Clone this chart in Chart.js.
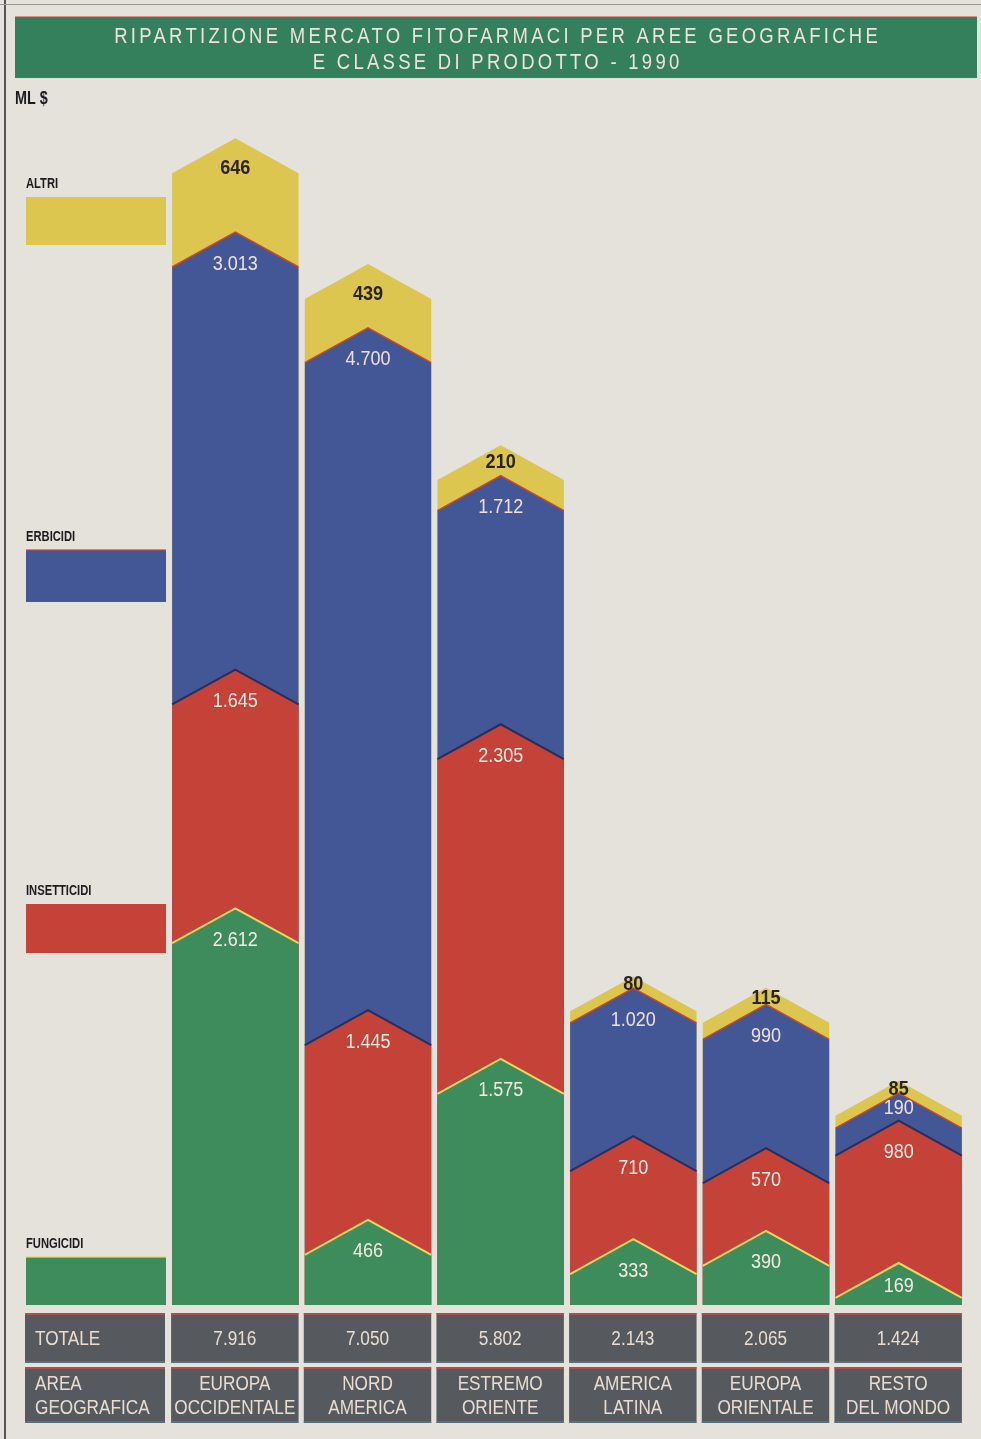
<!DOCTYPE html>
<html>
<head>
<meta charset="utf-8">
<script src="https://cdn.jsdelivr.net/npm/chart.js@4.4.1/dist/chart.umd.min.js"></script>
<style>
  body { margin: 0; background: #e5e2db; }
  #wrap { position: relative; width: 981px; height: 1439px; }
</style>
</head>
<body>
<div id="wrap"><canvas id="grafico" width="981" height="1439"></canvas></div>
<script>
// aree geografiche (due righe per cella) e valori in milioni di $
const aree = [
  ['EUROPA', 'OCCIDENTALE'],
  ['NORD', 'AMERICA'],
  ['ESTREMO', 'ORIENTE'],
  ['AMERICA', 'LATINA'],
  ['EUROPA', 'ORIENTALE'],
  ['RESTO', 'DEL MONDO']
];
const fungicidi   = [2612, 466, 1575, 333, 390, 169];
const insetticidi = [1645, 1445, 2305, 710, 570, 980];
const erbicidi    = [3013, 4700, 1712, 1020, 990, 190];
const altri       = [646, 439, 210, 80, 115, 85];
const totale      = [7916, 7050, 5802, 2143, 2065, 1424];

const classi = ['FUNGICIDI', 'INSETTICIDI', 'ERBICIDI', 'ALTRI'];
const colori = ['#3e8c5c', '#c44238', '#435696', '#dcc650'];
// filo sul bordo superiore di ogni fascia
const bordi = ['#e9d85e', '#2b2c58', '#c9482e', null];

const FONT = '"Liberation Sans", Arial, sans-serif';

function fmt(v) {
  return String(v).replace(/\B(?=(\d{3})+(?!\d))/g, '.');
}

function scrivi(ctx, s, x, y, font, color, align, sx) {
  ctx.save();
  ctx.font = font;
  ctx.fillStyle = color;
  ctx.textAlign = align;
  ctx.textBaseline = 'middle';
  ctx.translate(x, y);
  ctx.scale(sx, 1);
  ctx.fillText(s, 0, 0);
  ctx.restore();
}

// sfondo, testata, legenda a sinistra e tabella sotto le colonne
const cornice = {
  id: 'cornice',
  beforeDraw(chart) {
    const ctx = chart.ctx;
    ctx.save();
    ctx.fillStyle = '#e5e2db';
    ctx.fillRect(0, 0, chart.width, chart.height);
    ctx.fillStyle = '#55555a';
    ctx.fillRect(4, 0, 2, chart.height);
    ctx.fillStyle = '#9a9894';
    ctx.fillRect(0, 4, chart.width, 1);

    // banner del titolo
    ctx.fillStyle = '#34805c';
    ctx.fillRect(15, 17, 962, 61);
    ctx.fillStyle = 'rgba(200,90,80,0.6)';
    ctx.fillRect(15, 16, 962, 1);

    const righe = ['RIPARTIZIONE MERCATO FITOFARMACI PER AREE GEOGRAFICHE', 'E CLASSE DI PRODOTTO - 1990'];
    const sx = 0.84;
    const fTit = '22px ' + FONT;
    ctx.font = fTit;
    ctx.letterSpacing = '0px';
    const w0 = ctx.measureText(righe[0]).width;
    const ls = Math.max(0, (767 / sx - w0) / righe[0].length);
    [37, 63].forEach((y, j) => {
      ctx.save();
      ctx.font = fTit;
      ctx.letterSpacing = ls.toFixed(2) + 'px';
      ctx.fillStyle = '#efe3da';
      ctx.textAlign = 'center';
      ctx.textBaseline = 'middle';
      ctx.translate(496 + ls * sx / 2, y);
      ctx.scale(sx, 1);
      ctx.fillText(righe[j], 0, 0);
      ctx.restore();
    });
    ctx.letterSpacing = '0px';

    scrivi(ctx, 'ML $', 15, 99, 'bold 18px ' + FONT, '#1b1a1c', 'left', 0.8);

    // legenda
    const leg = [[1257, 1305], [904, 953], [550, 602], [197, 245]];
    leg.forEach(([t, b], k) => {
      ctx.fillStyle = colori[k];
      ctx.fillRect(26, t, 140, b - t);
      if (k === 0 || k === 2) {
        ctx.fillStyle = bordi[k];
        ctx.globalAlpha = 0.6;
        ctx.fillRect(26, t - 1, 140, 2);
        ctx.globalAlpha = 1;
      }
      scrivi(ctx, classi[k], 26, t - 13, 'bold 14px ' + FONT, '#1d1b1e', 'left', 0.8);
    });

    // tabella
    const meta = chart.getDatasetMeta(0);
    const celle = [[25, 165]].concat(meta.data.map(b => {
      const p = b.getProps(['x', 'width'], true);
      return [p.x - p.width / 2 - 1, p.x + p.width / 2];
    }));
    const fila = [[1313, 1363], [1367, 1423]];
    celle.forEach(([l, r], c) => {
      fila.forEach(([t, b]) => {
        ctx.fillStyle = '#565a5e';
        ctx.fillRect(l, t, r - l, b - t);
        ctx.fillStyle = 'rgba(196,78,76,0.75)';
        ctx.fillRect(l, t, r - l, 2);
        ctx.fillStyle = 'rgba(80,130,150,0.6)';
        ctx.fillRect(l, b - 2, r - l, 2);
      });
      const f = '20px ' + FONT, col = '#e9dcd2', cx = (l + r) / 2;
      if (c === 0) {
        scrivi(ctx, 'TOTALE', 35, 1339, f, col, 'left', 0.86);
        scrivi(ctx, 'AREA', 35, 1384, f, col, 'left', 0.86);
        scrivi(ctx, 'GEOGRAFICA', 35, 1408, f, col, 'left', 0.86);
      } else {
        scrivi(ctx, fmt(totale[c - 1]), cx, 1339, f, col, 'center', 0.86);
        scrivi(ctx, aree[c - 1][0], cx, 1384, f, col, 'center', 0.86);
        scrivi(ctx, aree[c - 1][1], cx, 1408, f, col, 'center', 0.86);
      }
    });
    ctx.restore();
  }
};

// colonne impilate con il bordo superiore a punta di freccia
const frecce = {
  id: 'frecce',
  afterDatasetsDraw(chart) {
    const ctx = chart.ctx;
    const metas = chart.data.datasets.map((d, k) => chart.getDatasetMeta(k));
    const n = chart.data.labels.length;
    ctx.save();
    for (let i = 0; i < n; i++) {
      const base = metas[0].data[i].getProps(['base'], true).base;
      const barre = metas.map(m => m.data[i].getProps(['x', 'y', 'base', 'width'], true));
      for (let k = barre.length - 1; k >= 0; k--) {
        const b = barre[k];
        const l = b.x - b.width / 2, r = b.x + b.width / 2, hh = b.width * 0.138;
        ctx.beginPath();
        ctx.moveTo(l, base);
        ctx.lineTo(l, b.y + hh);
        ctx.lineTo(b.x, b.y - hh);
        ctx.lineTo(r, b.y + hh);
        ctx.lineTo(r, base);
        ctx.closePath();
        ctx.fillStyle = colori[k];
        ctx.fill();
      }
      barre.forEach((b, k) => {
        if (!bordi[k]) return;
        const l = b.x - b.width / 2, r = b.x + b.width / 2, hh = b.width * 0.138;
        ctx.beginPath();
        ctx.moveTo(l, b.y + hh);
        ctx.lineTo(b.x, b.y - hh);
        ctx.lineTo(r, b.y + hh);
        ctx.strokeStyle = bordi[k];
        ctx.lineWidth = k === 2 ? 1.5 : 2;
        ctx.stroke();
      });
      barre.forEach((b, k) => {
        const hh = b.width * 0.138;
        const picco = b.y - hh;
        const v = chart.data.datasets[k].data[i];
        // spazio verticale sull'asse della colonna fino alla punta sottostante
        const spazio = (b.base - b.y) + (k === 0 ? hh : 0);
        const off = Math.min(k === 3 ? 30 : 32, Math.max(8, spazio / 2 + 2));
        if (k === 3) {
          scrivi(ctx, fmt(v), b.x, picco + off, 'bold 21px ' + FONT, '#2a241c', 'center', 0.86);
        } else {
          scrivi(ctx, fmt(v), b.x, picco + off, '20px ' + FONT, k === 2 ? '#ece0e2' : '#f4ece4', 'center', 0.9);
        }
      });
    }
    ctx.restore();
  }
};

const serie = [fungicidi, insetticidi, erbicidi, altri];

new Chart(document.getElementById('grafico'), {
  type: 'bar',
  data: {
    labels: aree.map(a => a.join(' ')),
    datasets: serie.map((d, k) => ({
      label: classi[k],
      data: d,
      backgroundColor: 'rgba(0,0,0,0)',
      borderWidth: 0,
      barPercentage: 0.953,
      categoryPercentage: 1
    }))
  },
  options: {
    responsive: false,
    devicePixelRatio: 1,
    animation: false,
    layout: { padding: { left: 169, right: 16, top: 100, bottom: 134 } },
    scales: {
      x: { stacked: true, display: false },
      y: { stacked: true, display: false, min: 0, max: 8300 }
    },
    plugins: {
      legend: { display: false },
      tooltip: { enabled: false },
      title: { display: false }
    }
  },
  plugins: [cornice, frecce]
});
</script>
</body>
</html>
